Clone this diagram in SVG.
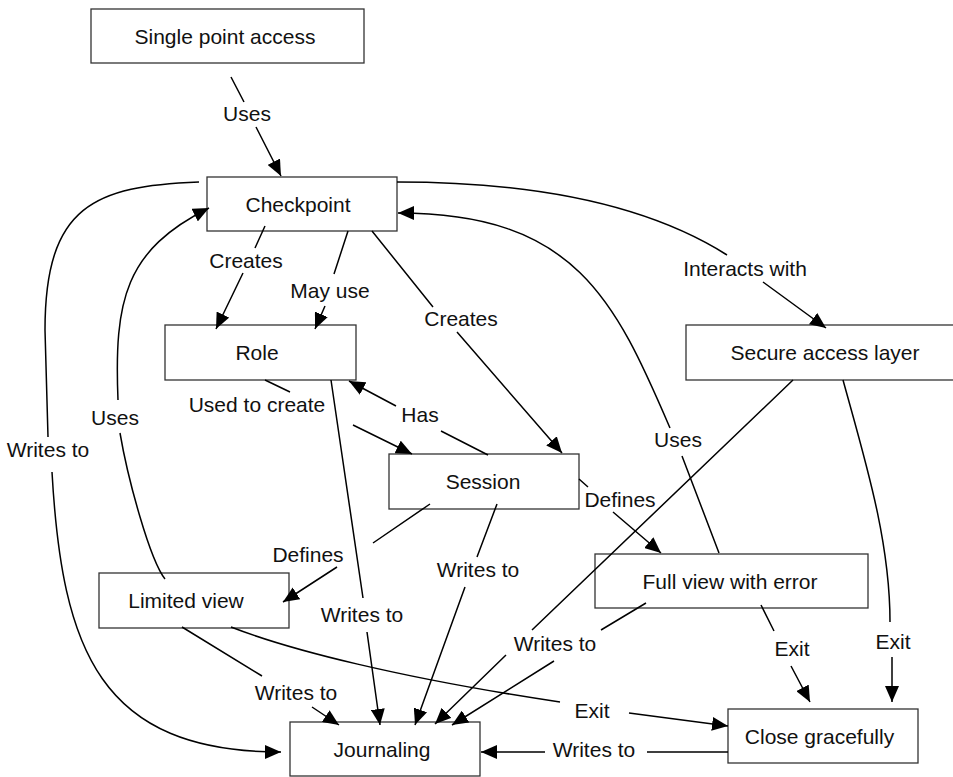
<svg xmlns="http://www.w3.org/2000/svg" width="953" height="777" viewBox="0 0 953 777">
  <defs>
    <marker id="arrow" viewBox="0 0 16 14" refX="16" refY="7" markerWidth="16" markerHeight="14" markerUnits="userSpaceOnUse" orient="auto">
      <path d="M0,0 L16,7 L0,14 z" fill="#000"/>
    </marker>
    <style>
      .node rect { fill: #fff; stroke: #333; stroke-width: 1.3; }
      .node text, .lbl { font-family: "Liberation Sans", Arial, sans-serif; font-size: 21px; fill: #111; text-anchor: middle; }
      .edge { fill: none; stroke: #000; stroke-width: 1.5; marker-end: url(#arrow); }
    </style>
  </defs>
  <rect width="953" height="777" fill="#fff"/>

  <!-- nodes (drawn first so connectors stay visible where they cross a box) -->
  <g id="single-point-access" class="node">
    <rect x="91" y="9" width="273" height="54"/>
    <text x="225" y="43.5">Single point access</text>
  </g>
  <g id="checkpoint" class="node">
    <rect x="207" y="177" width="190" height="54"/>
    <text x="298" y="211.5">Checkpoint</text>
  </g>
  <g id="role" class="node">
    <rect x="165" y="325" width="191" height="55"/>
    <text x="257" y="360">Role</text>
  </g>
  <g id="session" class="node">
    <rect x="389" y="454" width="190" height="55"/>
    <text x="483" y="489">Session</text>
  </g>
  <g id="secure-access-layer" class="node">
    <rect x="686" y="325" width="273" height="55"/>
    <text x="825" y="360">Secure access layer</text>
  </g>
  <g id="full-view-with-error" class="node">
    <rect x="595" y="554" width="273" height="54"/>
    <text x="730" y="588.5">Full view with error</text>
  </g>
  <g id="limited-view" class="node">
    <rect x="99" y="573" width="190" height="55"/>
    <text x="186" y="608">Limited view</text>
  </g>
  <g id="close-gracefully" class="node">
    <rect x="728" y="709" width="190" height="54"/>
    <text x="819.5" y="743.5">Close gracefully</text>
  </g>
  <g id="journaling" class="node">
    <rect x="290" y="722" width="190" height="54"/>
    <text x="382" y="756.5">Journaling</text>
  </g>

  <!-- connectors; each path is broken where its label sits -->
  <g id="connectors">
    <!-- Single point access -> Checkpoint -->
    <path class="edge" d="M231,77 L244,102 M256,127 L281,176"/>
    <text class="lbl" x="247" y="121">Uses</text>

    <!-- Checkpoint -> Role -->
    <path class="edge" d="M265,226 L255,248 M243,273 L216,329"/>
    <text class="lbl" x="246" y="268">Creates</text>

    <!-- Checkpoint -> Role (may use) -->
    <path class="edge" d="M348,231 L334,274 M325,306 L315,329"/>
    <text class="lbl" x="330" y="298">May use</text>

    <!-- Checkpoint -> Session -->
    <path class="edge" d="M372,231 L433,307 M457,332 L562,453"/>
    <text class="lbl" x="461" y="326">Creates</text>

    <!-- Checkpoint -> Secure access layer -->
    <path class="edge" d="M397,182 C520,182 640,200 727,255 M763,282 L826,328"/>
    <text class="lbl" x="745" y="276">Interacts with</text>

    <!-- Full view with error -> Checkpoint -->
    <path class="edge" d="M719,553 L682,456 M670,428 C615,300 575,213 398,213"/>
    <text class="lbl" x="678" y="447">Uses</text>

    <!-- Checkpoint -> Journaling -->
    <path class="edge" d="M199,182 C95,186 45,205 45,330 L48,437 M52,472 C62,650 100,752 281,752"/>
    <text class="lbl" x="48" y="457">Writes to</text>

    <!-- Limited view -> Checkpoint -->
    <path class="edge" d="M165,579 C150,560 128,480 120,433 M118,400 C114,300 125,250 209,208"/>
    <text class="lbl" x="115" y="425">Uses</text>

    <!-- Role -> Session -->
    <path class="edge" d="M265,380 L290,392 M353,425 L412,454"/>
    <text class="lbl" x="257" y="412">Used to create</text>

    <!-- Session -> Role -->
    <path class="edge" d="M488,455 L441,431 M396,406 L349,381"/>
    <text class="lbl" x="420" y="422">Has</text>

    <!-- Session -> Full view with error -->
    <path class="edge" d="M579,479 L588,487 M613,512 L661,553"/>
    <text class="lbl" x="620" y="507">Defines</text>

    <!-- Session -> Limited view -->
    <path class="edge" d="M430,504 L373,543 M337,567 L283,602"/>
    <text class="lbl" x="308" y="562">Defines</text>

    <!-- Session -> Journaling -->
    <path class="edge" d="M497,504 L477,557 M465,587 L415,725"/>
    <text class="lbl" x="478" y="577">Writes to</text>

    <!-- Role -> Journaling -->
    <path class="edge" d="M331,380 L363,598 M367,632 L380,725"/>
    <text class="lbl" x="362" y="622">Writes to</text>

    <!-- Limited view -> Journaling -->
    <path class="edge" d="M182,627 L262,676 M312,707 L339,725"/>
    <text class="lbl" x="296" y="700">Writes to</text>

    <!-- Limited view -> Close gracefully -->
    <path class="edge" d="M231,627 C290,650 400,678 560,702 M629,713 L728,726"/>
    <text class="lbl" x="592" y="718">Exit</text>

    <!-- Secure access layer -> Journaling -->
    <path class="edge" d="M793,380 L532,630 M506,655 L435,724"/>

    <!-- Full view with error -> Journaling -->
    <path class="edge" d="M646,603 L601,630 M554,661 L452,725"/>
    <text class="lbl" x="555" y="651">Writes to</text>

    <!-- Full view with error -> Close gracefully -->
    <path class="edge" d="M761,605 L774,631 M791,666 L810,702"/>
    <text class="lbl" x="792" y="656">Exit</text>

    <!-- Secure access layer -> Close gracefully -->
    <path class="edge" d="M843,380 C865,460 890,540 890,622 M892,657 L892,702"/>
    <text class="lbl" x="893" y="649">Exit</text>

    <!-- Close gracefully -> Journaling -->
    <path class="edge" d="M728,752 L647,752 M545,752 L481,752"/>
    <text class="lbl" x="594" y="757">Writes to</text>
  </g>
</svg>
